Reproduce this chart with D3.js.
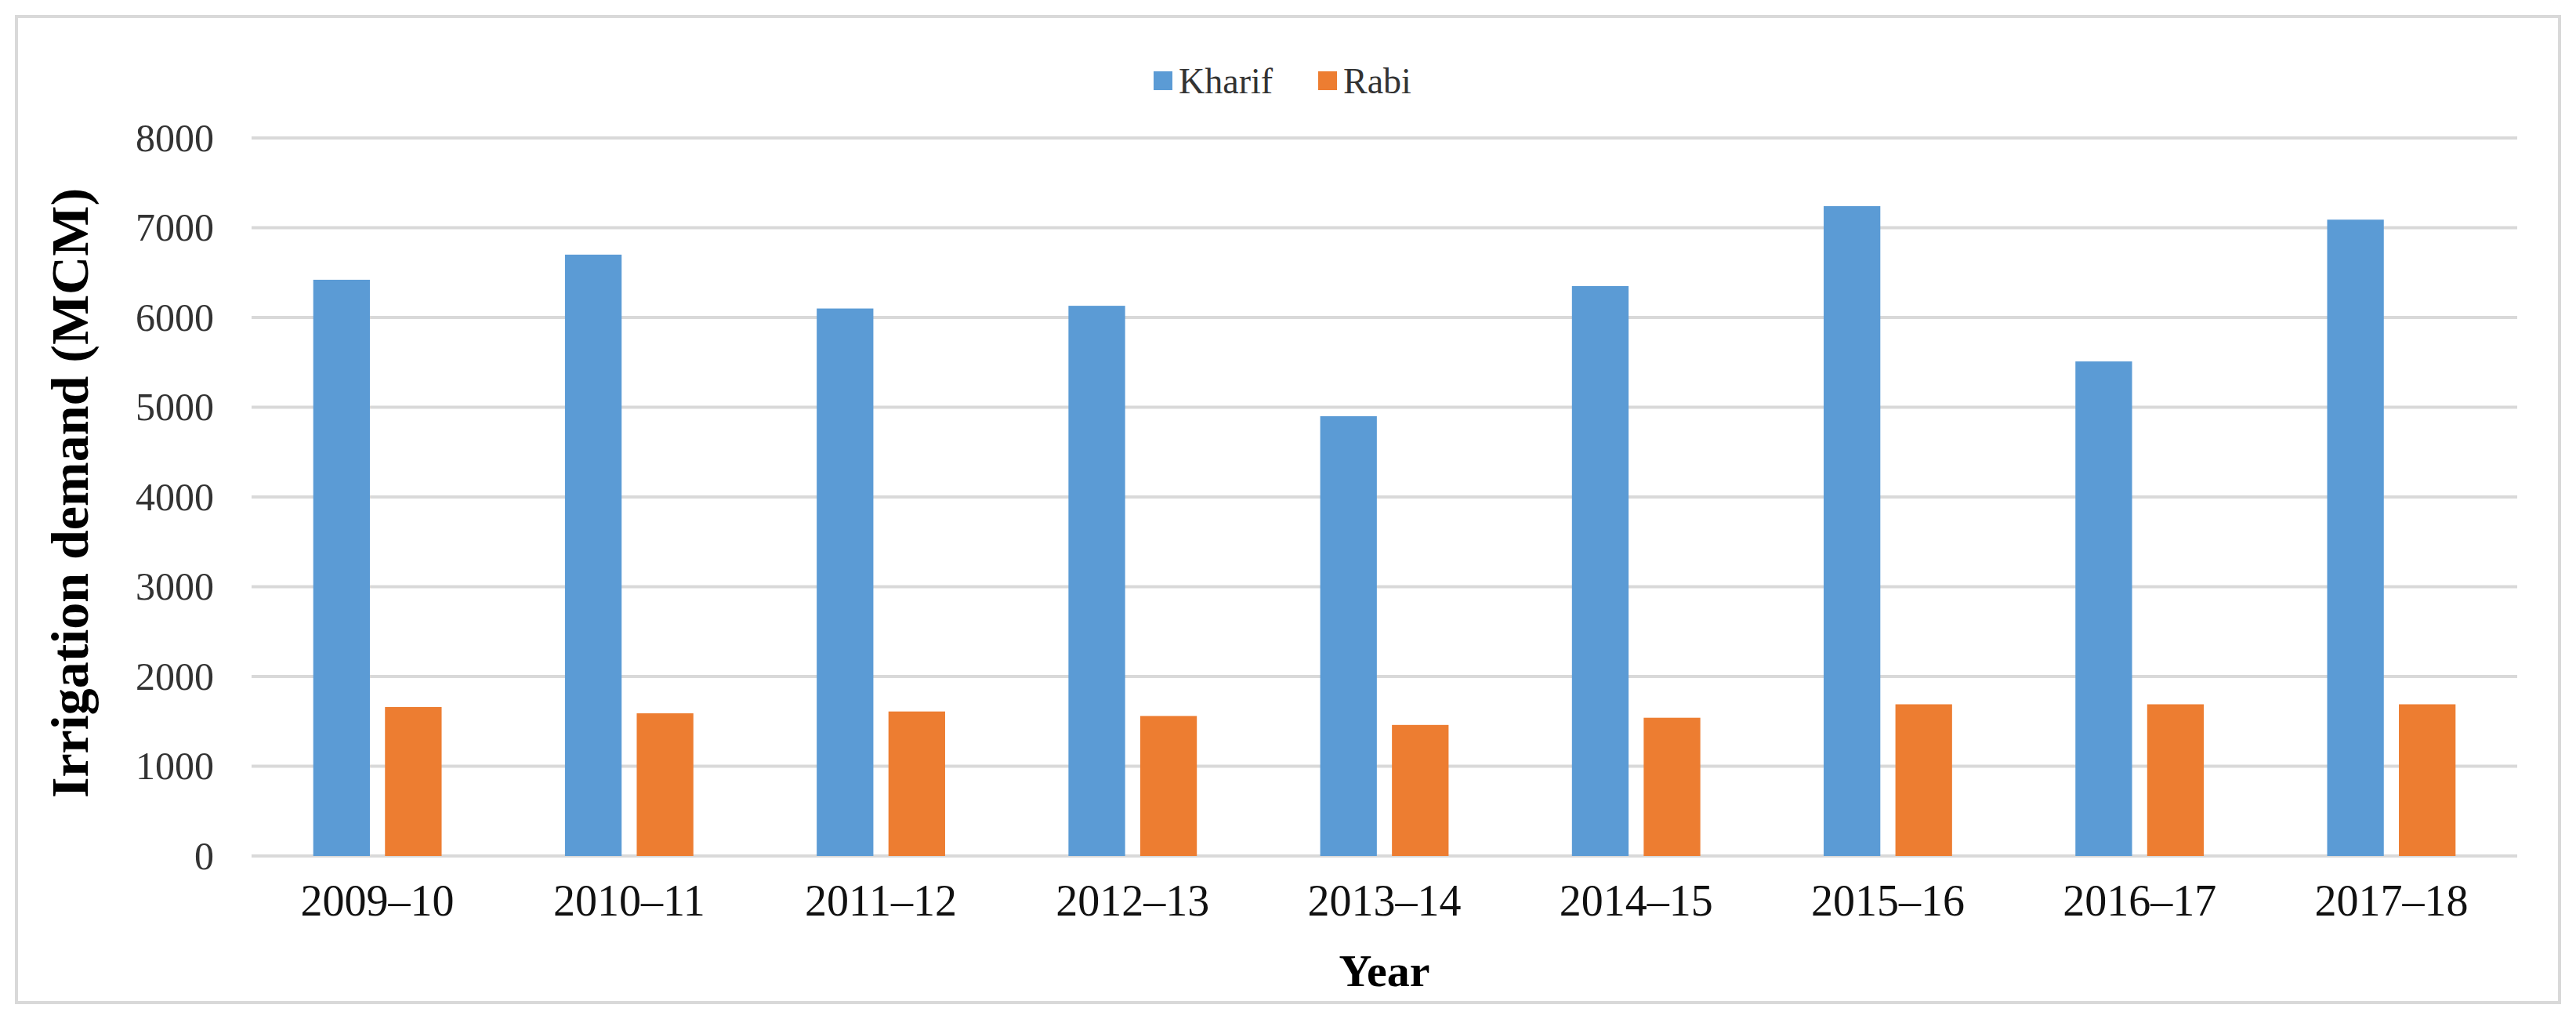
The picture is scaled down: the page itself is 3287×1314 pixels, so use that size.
<!DOCTYPE html>
<html><head><meta charset="utf-8">
<script src="https://cdn.jsdelivr.net/npm/d3@7"></script>
<style>body{margin:0;background:#fff}svg{display:block}</style>
</head><body>
<svg id="c" width="3287" height="1314"></svg>
<script>
const categories=["2009–10","2010–11","2011–12","2012–13","2013–14","2014–15","2015–16","2016–17","2017–18"];
const kharif=[6420,6700,6100,6130,4900,6350,7240,5510,7090];
const rabi=[1660,1590,1610,1560,1460,1540,1690,1690,1690];
const seriesNames=["Kharif","Rabi"];
const colors=["#5b9bd5","#ed7d31"];
const yTicks=[0,1000,2000,3000,4000,5000,6000,7000,8000];

const svg=d3.select("#c");
const font="Liberation Serif, Times New Roman, serif";
svg.append("rect").attr("x",21).attr("y",21).attr("width",3245).attr("height",1258).attr("fill","#fff").attr("stroke","#d9d9d9").attr("stroke-width",4);
const L=321,R=3212,T=176,B=1092;
const x=d3.scaleBand().domain(categories).range([L,R]);
const y=d3.scaleLinear().domain([0,8000]).range([B,T]);
svg.append("g").selectAll("line").data(yTicks).join("line")
 .attr("x1",L).attr("x2",R).attr("y1",d=>y(d)).attr("y2",d=>y(d)).attr("stroke","#d9d9d9").attr("stroke-width",4);
const yAxis=svg.append("g").attr("transform",`translate(${L},0)`).call(d3.axisLeft(y).tickValues(yTicks).tickFormat(d3.format("d")).tickSize(0).tickPadding(48));
yAxis.select(".domain").remove();
yAxis.selectAll("text").attr("font-family",font).attr("font-size",50).attr("fill","#333");
const bw=x.bandwidth()*0.225, gap=x.bandwidth()*0.06;
const series=[kharif,rabi];
series.forEach((s,i)=>{
 svg.append("g").selectAll("rect").data(s).join("rect")
  .attr("x",(d,j)=>x(categories[j])+x.bandwidth()/2+(i===0?-(bw+gap/2):gap/2))
  .attr("width",bw).attr("y",d=>y(d)).attr("height",d=>B-y(d)).attr("fill",colors[i]);
});
const xAxis=svg.append("g").attr("transform",`translate(0,${B})`).call(d3.axisBottom(x).tickSize(0).tickPadding(36));
xAxis.select(".domain").remove();
xAxis.selectAll("text").attr("font-family",font).attr("font-size",56).attr("fill","#111");
svg.append("text").attr("x",(L+R)/2).attr("y",1258).attr("text-anchor","middle").attr("font-family",font).attr("font-weight","bold").attr("font-size",58).text("Year");
svg.append("text").attr("transform",`translate(112,${(T+B)/2-5}) rotate(-90)`).attr("text-anchor","middle").attr("font-family",font).attr("font-weight","bold").attr("font-size",68).text("Irrigation demand (MCM)");
const lg=svg.append("g");
const lx=[1472,1682];
seriesNames.forEach((n,i)=>{
 lg.append("rect").attr("x",lx[i]).attr("y",91).attr("width",24).attr("height",24).attr("fill",colors[i]);
 lg.append("text").attr("x",lx[i]+32).attr("y",119).attr("font-family",font).attr("font-size",46).attr("fill","#333").text(n);
});
</script>
</body></html>
